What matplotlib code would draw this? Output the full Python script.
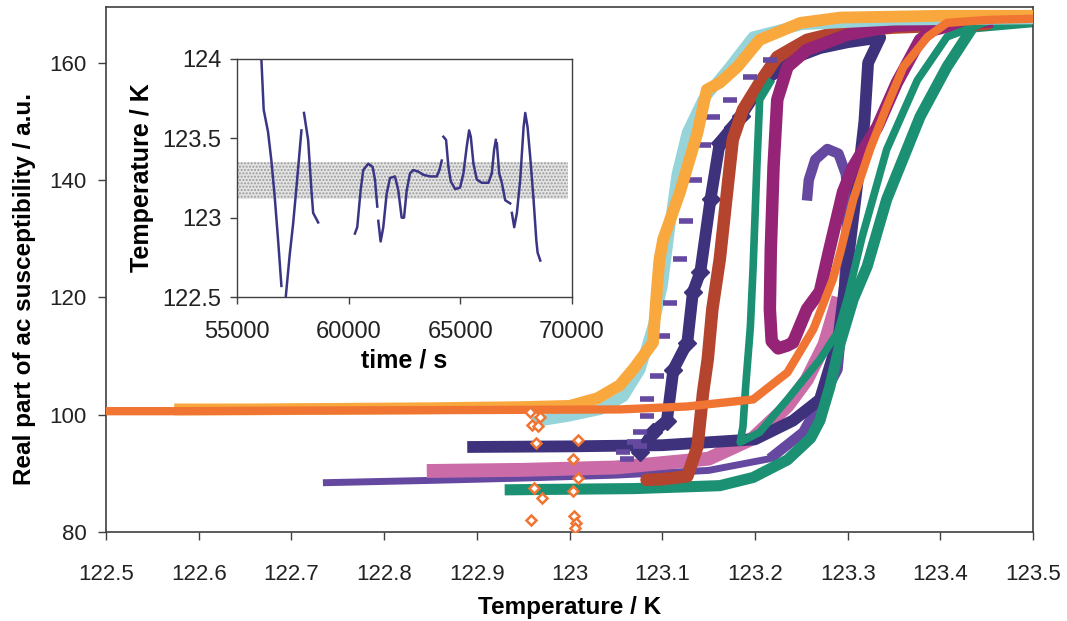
import matplotlib
matplotlib.use("Agg")
import matplotlib.pyplot as plt
from matplotlib.ticker import FixedLocator, FixedFormatter

plt.rcParams['font.family'] = ['Liberation Sans', 'DejaVu Sans']

# ---- main chart data (temperature / K, susceptibility / a.u.) ----
lorange_x = [122.58, 122.65, 122.75, 122.85, 122.95, 123.0, 123.03, 123.054, 123.07, 123.09,
             123.094, 123.097, 123.101, 123.119, 123.138, 123.148, 123.162, 123.181, 123.205,
             123.249, 123.292, 123.4, 123.5]
lorange_y = [100.9, 100.9, 101.0, 101.1, 101.3, 101.5, 102.8, 105.0, 108.0, 112.3,
             120.9, 126.5, 129.9, 137.9, 148.1, 155.4, 156.6, 159.3, 163.9,
             166.8, 167.7, 168.0, 168.0]

dorange_x = [122.5, 122.58, 122.7, 122.9, 123.055, 123.127, 123.198, 123.235, 123.263, 123.284,
             123.292, 123.306, 123.324, 123.342, 123.36, 123.386, 123.407, 123.45, 123.5]
dorange_y = [100.6, 100.6, 100.7, 100.8, 100.9, 101.4, 102.6, 107.2, 114.6, 123.1,
             127.7, 136.7, 145.2, 152.5, 159.3, 164.4, 166.8, 167.3, 167.5]

cyan_x = [122.965, 122.997, 123.033, 123.058, 123.076, 123.09, 123.1, 123.108, 123.116, 123.127,
          123.144, 123.173, 123.198, 123.25, 123.35, 123.5]
cyan_y = [98.9, 99.7, 100.9, 103.1, 107.7, 115.0, 122.0, 132.0, 141.0, 148.1,
          153.7, 159.3, 164.4, 166.5, 167.3, 167.5]

navy_x = [122.896, 123.0, 123.1, 123.2, 123.241, 123.27, 123.29, 123.3, 123.31, 123.318,
          123.322, 123.335, 123.3, 123.27, 123.25, 123.21, 123.185, 123.176, 123.162, 123.152,
          123.141, 123.133, 123.127, 123.112, 123.105, 123.09, 123.076]
navy_y = [94.5, 94.6, 94.8, 95.8, 99.0, 102.6, 113.0, 126.0, 139.0, 150.0,
          160.0, 164.3, 163.5, 162.5, 161.3, 157.0, 151.0, 149.1, 146.4, 136.7,
          124.3, 120.9, 112.3, 107.7, 99.0, 97.0, 93.6]

brown_x = [123.083, 123.1, 123.127, 123.138, 123.144, 123.149, 123.154, 123.162, 123.169, 123.176,
           123.187, 123.205, 123.224, 123.256, 123.292, 123.35, 123.45]
brown_y = [88.9, 89.0, 89.5, 94.6, 103.8, 109.4, 118.0, 126.5, 136.7, 146.9,
           152.0, 156.6, 161.0, 163.9, 165.3, 166.0, 166.6]

magenta_x = [123.45, 123.35, 123.3, 123.256, 123.235, 123.224, 123.22, 123.217, 123.216, 123.218,
             123.225, 123.235, 123.241, 123.256, 123.27, 123.28, 123.295, 123.306, 123.332,
             123.353, 123.378, 123.392, 123.43]
magenta_y = [167.0, 166.3, 164.8, 162.2, 159.3, 153.7, 142.3, 128.0, 118.0, 112.5,
             111.3, 111.8, 112.3, 118.0, 121.0, 128.0, 138.0, 142.3, 149.1,
             156.6, 163.9, 165.6, 167.0]

teal1_x = [122.936, 123.0, 123.069, 123.162, 123.198, 123.235, 123.26, 123.27, 123.281, 123.292,
           123.306, 123.321, 123.342, 123.378, 123.407, 123.435, 123.5]
teal1_y = [87.2, 87.3, 87.4, 87.9, 89.3, 92.3, 96.0, 99.0, 104.9, 112.3,
           119.7, 125.3, 136.7, 150.8, 159.3, 166.1, 167.0]

teal2_x = [123.216, 123.205, 123.202, 123.198, 123.195, 123.19, 123.187, 123.184, 123.205, 123.235,
           123.27, 123.289, 123.3, 123.315, 123.342, 123.375, 123.407, 123.45]
teal2_y = [156.6, 153.7, 142.3, 125.3, 115.0, 105.0, 98.0, 95.3, 97.0, 102.6,
           109.4, 114.0, 120.0, 130.0, 145.2, 157.0, 164.4, 167.0]

pink_x = [122.846, 122.95, 123.05, 123.15, 123.198, 123.235, 123.256, 123.275, 123.29]
pink_y = [90.4, 90.6, 91.0, 92.5, 96.0, 101.5, 106.0, 112.0, 120.0]

# flat part, then the rising part that ends in a hook
purple_x = [122.734, 122.85, 122.95, 123.05, 123.15, 123.216, 123.252]
purple_y = [88.4, 88.8, 89.2, 89.7, 90.5, 92.5, 97.0]
hook_x = [123.216, 123.252, 123.27, 123.289, 123.295, 123.298, 123.3, 123.298, 123.29, 123.278,
          123.265, 123.258, 123.256]
hook_y = [92.5, 97.0, 102.1, 107.7, 118.0, 128.0, 136.0, 141.0, 144.5, 145.3,
          143.5, 140.0, 136.5]

# sparse "-" markers
pdash_x = [123.062, 123.058, 123.069, 123.076, 123.076, 123.084, 123.084, 123.094, 123.101, 123.108,
           123.119, 123.126, 123.135, 123.145, 123.155, 123.173, 123.195, 123.216]
pdash_y = [92.4, 93.6, 95.3, 94.6, 97.0, 99.8, 102.6, 106.6, 113.4, 119.1,
           126.5, 133.0, 140.0, 146.0, 150.8, 153.7, 157.5, 160.5]

# open diamonds
odia_x = [122.957, 122.968, 122.96, 122.966, 122.964, 123.009, 123.004, 123.009, 122.962, 123.004,
          122.970, 122.958, 123.005, 123.007, 123.006]
odia_y = [100.4, 99.6, 98.2, 98.0, 95.1, 95.7, 92.4, 89.2, 87.5, 87.0,
          85.8, 82.0, 82.7, 81.5, 80.7]

xticks = [122.5, 122.6, 122.7, 122.8, 122.9, 123.0, 123.1, 123.2, 123.3, 123.4, 123.5]
xticklabels = ['122.5', '122.6', '122.7', '122.8', '122.9', '123', '123.1', '123.2', '123.3',
               '123.4', '123.5']
yticks = [80, 100, 120, 140, 160]

# ---- inset data (time / s, temperature / K) ----
inset_t = [56092, 56196, 56391, 56540, 56690, 56840, 56989, None,
           57183, 57363, 57512, 57662, 57886, None,
           58000, 58185, 58335, 58410, 58634, None,
           60279, 60384, 60534, 60653, 60877, 61072, 61177, 61281, None,
           61326, 61431, 61550, 61700, 61850, 62074, 62224, 62373, 62478, 62597, 62747, 62896,
           63120, 63345, 63644, 63943, 64063, 64167, None,
           64242, 64361, 64466, 64570, 64765, 64989, 65139, 65288, 65393, 65468, 65587, 65737,
           65961, 66260, 66409, 66514, 66589, None,
           66634, 66739, 66858, 67008, 67232, None,
           67307, 67412, 67532, 67681, 67831, 67906, 68010, 68130, 68280, 68400, 68459, 68579]
inset_T = [124.0, 123.68, 123.54, 123.36, 123.13, 122.86, 122.57, None,
           122.5, 122.77, 122.96, 123.19, 123.55, None,
           123.66, 123.49, 123.17, 123.03, 122.97, None,
           122.90, 122.94, 123.17, 123.30, 123.34, 123.32, 123.24, 123.07, None,
           122.98, 122.85, 122.94, 123.15, 123.25, 123.26, 123.17, 123.0, 123.0, 123.17, 123.28,
           123.30, 123.29, 123.27, 123.26, 123.26, 123.30, 123.36, None,
           123.51, 123.49, 123.32, 123.23, 123.18, 123.19, 123.28, 123.45, 123.55, 123.51, 123.34,
           123.24, 123.22, 123.22, 123.28, 123.43, 123.49, None,
           123.47, 123.28, 123.22, 123.11, 123.09, None,
           123.03, 122.94, 123.03, 123.24, 123.57, 123.66, 123.57, 123.38, 123.11, 122.86, 122.78,
           122.73]
band_t = [55000, 69800]
band_lo = 123.12
band_hi = 123.35

fig = plt.figure(figsize=(10.67, 6.21), dpi=100)
ax = fig.add_axes([0.0993, 0.1433, 0.8690, 0.8454])

ax.plot(purple_x, purple_y, color='#6548A0', lw=5, solid_capstyle='butt', zorder=2)
ax.plot(pink_x, pink_y, color='#CB6BA8', lw=10, solid_capstyle='butt', zorder=2.1)
ax.plot(hook_x, hook_y, color='#6548A0', lw=7.5, solid_capstyle='butt', zorder=2.15)
ax.plot(navy_x, navy_y, color='#3E327C', lw=8.5, solid_joinstyle='round', zorder=2.2)
ax.plot(navy_x[-12:], navy_y[-12:], ls='none', marker='D', ms=9, color='#3E327C', zorder=2.2)
ax.plot(teal1_x, teal1_y, color='#1B9072', lw=8, zorder=2.3)
ax.plot(brown_x, brown_y, color='#B4442E', lw=9, solid_capstyle='round', zorder=2.4)
ax.plot(magenta_x, magenta_y, color='#952477', lw=9, zorder=2.5)
ax.plot(teal2_x, teal2_y, color='#1B9072', lw=5.5, zorder=2.6)
ax.plot(cyan_x, cyan_y, color='#96D4DA', lw=8, zorder=2.7)
ax.plot(pdash_x, pdash_y, ls='none', marker='_', ms=10, mew=4, color='#6548A0', zorder=2.8)
ax.plot(lorange_x, lorange_y, color='#F9A83E', lw=8.5, zorder=2.9)
ax.plot(dorange_x, dorange_y, color='#F07533', lw=6, solid_capstyle='round', zorder=3.0)
ax.plot(odia_x, odia_y, ls='none', marker='D', ms=5, mfc='white', mec='#F07533', mew=1.8,
        zorder=3.1)

ax.set_xlim(122.5, 123.5)
ax.set_ylim(80, 169.5)
ax.xaxis.set_major_locator(FixedLocator(xticks))
ax.xaxis.set_major_formatter(FixedFormatter(xticklabels))
ax.set_yticks(yticks)
ax.tick_params(direction='out', length=6, width=1, colors='#404040', labelsize=16,
               labelcolor='#222222')
ax.tick_params(axis='x', pad=17)
ax.tick_params(axis='y', pad=8)
for s in ax.spines.values():
    s.set_color('#404040')
    s.set_linewidth(1.2)
ax.set_xlabel('Temperature / K', fontsize=17.5, fontweight='bold', labelpad=8)
ax.set_ylabel('Real part of ac susceptibility / a.u.', fontsize=17.5, fontweight='bold')
ax.yaxis.set_label_coords(-0.0755, 0.463)

# inset
ins = fig.add_axes([0.2221, 0.5217, 0.3140, 0.3833])
ins.fill_between(band_t, band_lo, band_hi, facecolor='#e4e4e4', edgecolor='#9a9a9a',
                 hatch='.....', lw=0, zorder=1)
ins.plot(inset_t, inset_T, color='#3A3584', lw=1.8, zorder=2)
ins.set_xlim(55000, 70000)
ins.set_ylim(122.5, 124)
ins.set_xticks([55000, 60000, 65000, 70000])
ins.set_yticks([122.5, 123, 123.5, 124])
ins.set_yticklabels(['122.5', '123', '123.5', '124'])
ins.tick_params(direction='out', length=5, width=1, colors='#404040', labelsize=17,
                labelcolor='#222222')
ins.tick_params(axis='x', pad=12)
ins.tick_params(axis='y', pad=6)
for s in ins.spines.values():
    s.set_color('#404040')
    s.set_linewidth(1.0)
ins.set_xlabel('time / s', fontsize=18, fontweight='bold', labelpad=4)
ins.set_ylabel('Temperature / K', fontsize=18, fontweight='bold', labelpad=6)

fig.savefig('out.png', dpi=100)
